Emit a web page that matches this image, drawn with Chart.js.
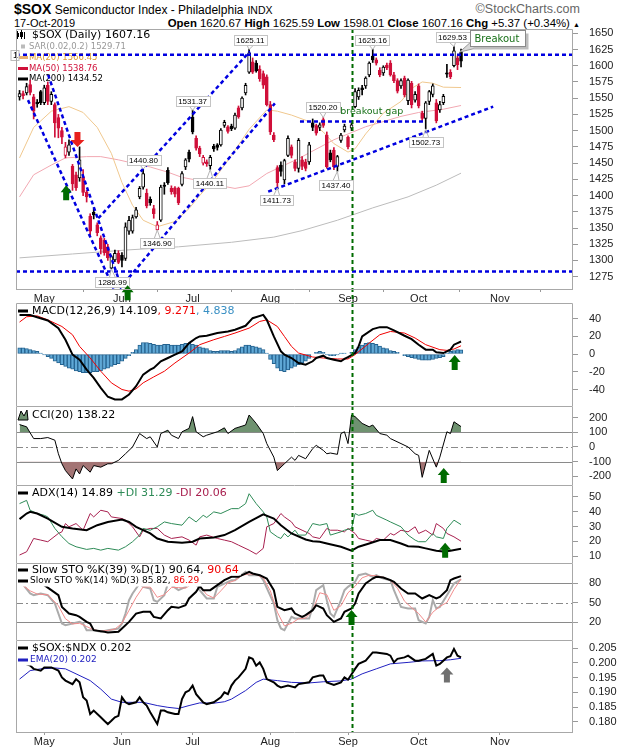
<!DOCTYPE html>
<html>
<head>
<meta charset="utf-8">
<title>$SOX Semiconductor Index</title>
<script src="https://cdn.jsdelivr.net/npm/chart.js@4.4.1/dist/chart.umd.min.js"></script>
<style>
  body { margin: 0; background: #fff; font-family: "Liberation Sans", Arial, sans-serif; }
  #page { position: relative; width: 620px; height: 750px; overflow: hidden; }
  canvas { position: absolute; left: 0; }
  .hd { position: absolute; white-space: nowrap; color: #000; }
</style>
</head>
<body>
<div id="page">
  <div class="hd" style="left:14px;top:1px;font-size:14px;font-weight:bold">$SOX<span style="font-weight:normal;font-size:12px;font-family:'Liberation Sans Narrow','Liberation Sans',sans-serif"> Semiconductor Index - Philadelphia</span> <span style="font-weight:normal;font-size:10.5px">INDX</span></div>
  <div class="hd" style="right:40px;top:2px;font-size:12.5px;color:#666">&copy;StockCharts.com</div>
  <div class="hd" style="left:14px;top:17px;font-size:11px">17-Oct-2019</div>
  <div class="hd" style="right:40px;top:17px;font-size:11.4px"><b>Open</b> 1620.67 <b>High</b> 1625.59 <b>Low</b> 1598.01 <b>Close</b> 1607.16 <b>Chg</b> +5.37 (+0.34%) <span style="font-size:7px">&#9650;</span></div>
  <canvas id="cPrice" width="620" height="281" style="top:22px"></canvas>
  <canvas id="cMacd" width="620" height="103" style="top:303px"></canvas>
  <canvas id="cCci" width="620" height="79" style="top:406px"></canvas>
  <canvas id="cAdx" width="620" height="78" style="top:485px"></canvas>
  <canvas id="cSto" width="620" height="77" style="top:563px"></canvas>
  <canvas id="cRatio" width="620" height="110" style="top:640px"></canvas>
</div>
<script>
// trading days: 0 = 22-Apr-2019 ... 125 = 17-Oct-2019
const monthStarts = [7, 29, 49, 71, 93, 113, 136];
const monthNames = ['May', 'Jun', 'Jul', 'Aug', 'Sep', 'Oct', 'Nov'];

const open = [1552,1557,1558,1571,1552,1544,1560,1543,1570,1545,
  1540,1520,1500,1462,1467,1445,1432,1427,1429,1405,
  1368,1374,1355,1335,1331,1321,1288,1301,1311,1308,
  1303,1345,1345,1367,1398,1413,1404,1394,1380,1347,
  1362,1416,1439,1411,1412,1411,1417,1444,1467,1521,
  1488,1473,1450,1452,1446,1476,1478,1478,1508,1506,
  1507,1504,1535,1535,1558,1590,1606,1604,1595,1588,
  1583,1540,1493,1443,1447,1424,1462,1475,1452,1442,
  1455,1452,1452,1512,1508,1505,1517,1493,1466,1470,
  1445,1485,1501,1490,1504,1537,1552,1566,1569,1586,
  1615,1609,1593,1589,1601,1604,1586,1577,1569,1581,
  1546,1573,1547,1569,1527,1519,1545,1556,1543,1532,
  1543,1589,1590,1600,1612,1620.67];
const high = [1562,1561,1573,1578,1556,1548,1562,1570,1575,1560,
  1543,1525,1505,1482,1486,1448,1436,1475,1440,1408,
  1372,1381,1358,1338,1334,1325,1308,1316,1315,1312,
  1358,1368,1370,1382,1414,1440.8,1410,1398,1385,1360,
  1416,1420,1443,1415,1414,1413,1437,1457,1470,1531.37,
  1492,1476,1462,1455,1462,1479,1480,1503,1516,1508,
  1510,1527,1538,1552,1573,1625.11,1612,1608,1600,1592,
  1586,1545,1497,1446,1452,1456,1492,1478,1455,1488,
  1460,1456,1482,1518,1510,1512,1520.2,1498,1470,1474,
  1462,1496,1510,1492,1512,1565,1566,1570,1583,1606,
  1625.16,1612,1597,1600,1604,1608,1590,1580,1580,1584,
  1580,1576,1560,1572,1530,1545,1562,1572,1548,1545,
  1556,1602,1594,1629.53,1615,1625.59];
const low = [1547,1549,1555,1555,1518,1536,1540,1540,1540,1540,
  1490,1489,1480,1458,1462,1408,1408,1422,1400,1390,
  1338,1364,1338,1310,1308,1300,1286.99,1298,1295,1290,
  1300,1340,1342,1365,1395,1410,1381,1385,1365,1346.9,
  1360,1402,1417,1402,1398,1386,1415,1440,1452,1495,
  1470,1460,1447,1445,1440.11,1468,1470,1476,1505,1496,
  1500,1502,1519,1532,1555,1588,1588,1590,1576,1565,
  1538,1494,1483,1411.73,1430,1418,1460,1458,1438,1436,
  1440,1438,1448,1500,1493,1500,1505,1442,1452,1440,
  1437.4,1482,1498,1472,1500,1535,1548,1555,1565,1583,
  1605,1601,1583,1585,1594,1584,1574,1558,1565,1552,
  1540,1535,1544,1535,1515,1502.73,1540,1552,1512,1528,
  1540,1582,1580,1598,1594,1598.01];
const close = [1557,1554,1568,1559,1530,1541,1543,1566,1545,1556,
  1512,1504,1490,1475,1478,1418,1412,1455,1405,1398,
  1345,1370,1343,1318,1312,1304,1306,1311,1297,1300,
  1352,1362,1366,1378,1411,1434,1384,1389,1372,1355,
  1413,1414,1420,1406,1402,1389,1434,1455,1456,1498,
  1473,1464,1459,1449,1459,1472,1474,1501,1513,1499,
  1503,1524,1521,1550,1570,1620,1590,1592,1580,1570,
  1540,1498,1486,1420,1437,1454,1488,1462,1442,1485,
  1445,1442,1478,1505,1496,1509,1508,1444,1455,1444,
  1460,1493,1507,1475,1509,1560,1562,1563,1581,1604,
  1609,1604,1586,1598,1597,1586,1577,1561,1577,1555,
  1578,1540,1556,1538,1519,1543,1560,1569,1515,1540,
  1553,1587,1583,1623,1601.79,1607.16];

// overlays on price: [day, value]
const ma20 = [[0,1458],[4,1505],[9,1530],[14,1537],[18,1528],[22,1505],[26,1465],[29,1420],[32,1385],[35,1362],
  [39,1352],[44,1360],[48,1380],[51,1400],[55,1424],[60,1462],[65,1502],[70,1532],[73,1530],[77,1524],
  [82,1514],[86,1498],[89,1480],[93,1467],[95,1472],[98,1495],[103,1527],[108,1545],[111,1565],[114,1575],
  [117,1573],[120,1567],[125,1566.45]];
const ma50 = [[0,1398],[4,1432],[9,1447],[13,1458],[19,1460],[23,1460],[28,1455],[32,1450],[37,1444],[42,1436],
  [46,1428],[51,1423],[56,1416],[61,1411],[65,1415],[70,1434],[79,1457],[89,1486],[98,1506],[108,1522],
  [113,1528],[120,1533],[125,1538.76]];
const ma200 = [[0,1304],[15,1310],[30,1316],[45,1321],[60,1328],[72,1336],[80,1346],[90,1362],[100,1381],
  [110,1398],[118,1416],[125,1434.52]];

const macdLine = [[0,44],[3,44],[5,41.5],[8,37.8],[11,29.2],[13,16.1],[15,-0.7],[17,-6.4],[19,-17.6],[21,-26.9],
  [23,-38.1],[25,-48.2],[27,-51.2],[29,-51.2],[31,-45.6],[33,-36.3],[35,-23.2],[37,-17.6],[38,-15.7],[40,-8.2],
  [42,-4.5],[44,-0.7],[46,3],[48,12.3],[50,18],[51,19.8],[53,20.6],[56,23.6],[59,25.4],[61,27.3],
  [64,31.8],[66,40.4],[69,44.1],[70,38.5],[72,19.8],[74,3],[75,-0.7],[77,-4.5],[79,-10.1],[81,-12],
  [83,-8.2],[84,-4.5],[86,-1.9],[87,-4.5],[89,-6.4],[91,-8.2],[92,-5.6],[93,-3.4],[95,1.1],[96,8.6],
  [97,19.8],[100,28.1],[102,30.3],[104,30.3],[106,26.6],[109,20.6],[111,16.8],[113,10.5],[115,4.9],[117,4.9],
  [118,1.9],[120,1.1],[122,4.9],[123,10.5],[124,12.3],[125,14.109]];
const macdSignal = [[0,36],[2,42],[5,43],[8,38.5],[12,31],[15,21.7],[17,8.6],[20,-4.5],[23,-19.4],[26,-32.5],
  [29,-40],[31,-41.9],[33,-39.3],[35,-32.5],[38,-25.8],[41,-19.4],[44,-10.1],[48,1.1],[51,10.5],[55,16.1],
  [58,19.8],[61,23.6],[65,29.2],[68,36.7],[70,38.5],[73,31],[75,19.8],[77,8.6],[79,1.1],[83,-3.4],
  [86,-4.5],[90,-5.6],[93,-5.6],[95,-0.7],[99,12.3],[102,21.7],[105,25.4],[109,23.6],[112,18],[115,10.5],
  [119,4.9],[121,4.1],[123,5.6],[125,9.271]];
const macdHist = [7,7,6,5,4,3,1,-1,-3,-5,
  -8,-10,-12,-14,-16,-17,-19,-20,-21,-21,
  -21,-20,-20,-19,-17,-16,-14,-12,-11,-8,
  -5,-2,2,5,10,13,13,12,11,10,
  10,11,11,10,10,10,11,12,12,11,
  10,8,7,6,4,3,3,4,4,4,
  3,4,6,8,10,10,9,8,7,5,
  1,-6,-11,-16,-19,-20,-18,-16,-14,-12,
  -10,-8,-5,0,2,3,2,-1,-2,-2,
  -1,1,1,0,2,5,8,10,12,13,
  12,11,9,7,6,4,3,2,0,-2,
  -3,-4,-5,-6,-7,-7,-7,-6,-5,-4,
  -3,1,3,4,5,4.838];

const cci = [[0,152],[2,137],[3,96],[4,57],[6,57],[8,64],[10,46],[11,-46],[12,-114],[13,-160],
  [15,-217],[16,-149],[17,-183],[18,-126],[20,-171],[21,-126],[23,-137],[25,-114],[26,-114],[28,-91],
  [30,-46],[32,0],[34,91],[36,57],[37,69],[39,0],[40,91],[42,114],[43,80],[45,57],
  [46,103],[48,126],[49,206],[50,103],[52,69],[53,80],[56,103],[58,130],[59,91],[61,126],
  [64,149],[65,217],[67,160],[69,91],[70,23],[72,-69],[73,-160],[75,-114],[77,-69],[78,-91],
  [79,-57],[81,-80],[83,-11],[84,11],[86,-23],[87,-46],[88,-41],[90,-50],[91,91],[92,103],
  [93,23],[94,217],[95,206],[97,160],[99,137],[100,149],[102,91],[104,80],[105,57],[108,23],
  [110,0],[112,-46],[113,-57],[114,-206],[116,-23],[118,-137],[119,-69],[121,103],[122,91],[123,171],
  [125,138.22]];

const adx = [[0,35],[2,38.8],[3,39.9],[5,38.8],[8,35.4],[12,29.8],[15,28.7],[19,27.5],[22,30.9],[25,33.1],
  [29,34.7],[31,33.1],[33,29.8],[37,25.3],[39,21.9],[42,19.7],[46,19],[49,19.7],[51,21.9],[55,22.6],
  [58,24.2],[61,27.5],[65,33.1],[69,38.3],[72,35.4],[74,30.9],[77,25.3],[81,21.2],[83,20.1],[85,19.7],
  [87,18.5],[91,16.3],[94,13.6],[96,16.3],[99,18.5],[102,20.8],[105,20.8],[108,18.5],[110,16.7],[113,16.3],
  [115,15.2],[118,13.6],[120,13.1],[122,13.6],[125,14.89]];
const plusDI = [[0,45.5],[2,47.7],[3,41],[5,38.8],[7,37.6],[8,36.5],[10,28.7],[12,23.1],[14,18.5],[16,16.3],
  [19,14.5],[21,15.2],[23,14],[25,15.2],[28,14],[30,16.3],[32,19.7],[34,24.2],[35,28.7],[37,27.5],
  [39,29.8],[41,33.1],[43,32],[46,30.9],[48,36.5],[50,33.1],[52,37.6],[53,36.1],[55,39.9],[57,38.8],
  [59,41],[60,42.1],[62,42.1],[64,45.5],[65,52.2],[67,45.5],[69,39.9],[70,36.5],[71,26.4],[73,23],
  [74,21.9],[75,25.3],[76,23],[78,27.5],[79,24.2],[81,24.2],[83,32],[85,30.9],[87,32],[88,24.2],
  [91,26.4],[92,27.5],[94,28.7],[95,38.8],[96,37.6],[98,38.8],[100,41],[101,37.6],[104,34.3],[105,33.1],
  [108,29.8],[110,24.2],[112,20.8],[113,19.7],[115,19.7],[117,25.3],[118,23],[120,21.9],[121,28.7],[123,34.3],
  [125,31.29]];
const minusDI = [[0,10.7],[2,12.9],[4,21.9],[6,20.8],[8,19.7],[11,25.3],[12,26.4],[13,32],[14,29.8],[16,32],
  [18,27.5],[20,38.8],[21,36.5],[23,41],[25,39.9],[26,36.5],[29,35.4],[30,34.3],[32,29.8],[34,23],
  [35,27.5],[37,28.7],[39,28.7],[41,24.2],[43,21.9],[46,23],[48,20.8],[50,17.4],[51,23],[53,24.2],
  [56,21.9],[58,20.8],[60,19.7],[62,17.4],[65,14],[67,11.3],[69,15.2],[70,29.8],[72,32],[74,38.8],
  [75,36.5],[77,33.1],[78,29.8],[80,27.5],[82,25.3],[83,23],[85,21.9],[87,28.7],[88,27.5],[90,27.5],
  [92,26.4],[93,28.7],[95,25.3],[96,21.9],[98,20.8],[100,19.7],[101,21.9],[103,20.8],[105,25.3],[106,24.2],
  [108,27.5],[110,26.4],[112,29.8],[113,25.3],[115,27.5],[117,24.2],[118,32],[120,28.7],[121,25.3],[123,23],
  [125,20.06]];

const stoK39 = [[0,89],[5,84.4],[9,69],[11,61.3],[12,43.3],[14,33],[16,30.5],[17,27.9],[19,20.2],[20,17.7],
  [21,7.4],[24,4.9],[25,3.8],[28,4.9],[29,10],[31,20.2],[33,33],[35,35.6],[37,35.6],[38,27.9],
  [40,25.4],[42,38.2],[43,43.3],[45,41.8],[47,45.9],[48,56.2],[50,66.4],[51,75.1],[52,69],[54,69],
  [56,76.7],[58,84.4],[60,89.5],[62,89.5],[65,97.2],[66,94.6],[68,92.1],[70,86.9],[72,69],[73,43.3],
  [75,38.2],[77,40.8],[78,33],[80,27.9],[81,30.5],[83,38.2],[84,45.9],[86,40.8],[87,30.5],[89,20.2],
  [91,25.4],[92,35.6],[94,40.8],[95,48.5],[96,63.9],[98,79.2],[100,86.9],[101,89.5],[103,88.5],[105,84.4],
  [106,81.8],[108,71.5],[110,63.9],[112,63.9],[114,56.2],[116,61.3],[118,56.2],[119,58.7],[121,69],[122,84.4],
  [123,86.9],[125,90.64]];
const stoK14 = [[0,84.4],[3,63.9],[4,61.3],[6,63.9],[8,61.3],[10,48.5],[12,17.7],[13,15.1],[15,17.7],[17,20.2],
  [18,17.7],[19,7.4],[21,7.4],[23,4.9],[25,7.4],[28,10],[29,17.7],[30,33],[31,53.6],[32,63.9],
  [34,79.2],[35,74.1],[37,71.5],[38,53.6],[39,51],[41,61.3],[42,79.2],[43,76.7],[45,69],[47,74.1],
  [48,81.8],[50,79.2],[51,69],[53,56.2],[55,56.2],[56,74.1],[58,79.2],[60,84.4],[61,84.4],[64,97.2],
  [65,92.1],[68,92.1],[69,84.4],[72,48.5],[73,22.8],[74,10],[75,7.4],[77,27.9],[78,25.4],[80,25.4],
  [82,25.4],[83,43.3],[84,69],[86,76.7],[87,53.6],[88,33],[89,27.9],[91,53.6],[92,69],[93,74.1],
  [95,81.8],[96,92.1],[98,94.6],[100,89.5],[101,92.1],[103,86.9],[105,84.4],[106,69],[108,43.3],[110,40.8],
  [112,40.8],[113,22.8],[115,17.7],[116,27.9],[117,53.6],[118,40.8],[119,43.3],[121,61.3],[123,79.2],[125,85.82]];
const stoD3 = [[0,80],[3,68],[5,63],[8,62],[11,45],[13,25],[15,17],[17,18],[19,13],[21,8],
  [23,6],[25,7],[27,9],[29,18],[31,38],[33,58],[35,74],[37,74],[39,58],[41,62],
  [43,73],[45,73],[47,72],[49,79],[51,76],[53,62],[55,57],[57,68],[59,80],[61,84],
  [63,92],[65,94],[67,93],[69,88],[71,68],[73,35],[75,14],[77,18],[79,25],[81,26],
  [83,38],[85,65],[87,62],[89,38],[91,45],[93,65],[95,75],[97,88],[99,92],[101,91],
  [103,89],[105,84],[107,72],[109,52],[111,42],[113,33],[115,20],[117,35],[119,44],[121,50],
  [123,70],[125,86.29]];

const ratio = [[0,0.2005],[3,0.1991],[4,0.1980],[6,0.1974],[7,0.1985],[9,0.1985],[11,0.1974],[12,0.1951],[13,0.1940],[15,0.1928],
  [16,0.1945],[17,0.1934],[18,0.1883],[19,0.1872],[20,0.1826],[21,0.1838],[23,0.1815],[24,0.1803],[25,0.1792],[26,0.1803],
  [27,0.1815],[28,0.1820],[29,0.1883],[30,0.1866],[31,0.1860],[33,0.1866],[34,0.1883],[35,0.1866],[36,0.1855],[37,0.1832],
  [39,0.1792],[40,0.1838],[41,0.1838],[42,0.1832],[44,0.1826],[45,0.1826],[46,0.1877],[47,0.1900],[48,0.1906],[49,0.1923],
  [50,0.1894],[52,0.1866],[53,0.1860],[55,0.1866],[57,0.1883],[58,0.1900],[59,0.1894],[60,0.1923],[61,0.1940],[62,0.1951],
  [64,0.1980],[65,0.2019],[66,0.2014],[67,0.1991],[68,0.2002],[69,0.1980],[70,0.1945],[72,0.1934],[73,0.1923],[74,0.1917],
  [76,0.1923],[78,0.1917],[79,0.1928],[82,0.1934],[83,0.1951],[85,0.1957],[86,0.1957],[87,0.1934],[89,0.1925],[91,0.1934],
  [92,0.1951],[93,0.1943],[95,0.1980],[96,0.1997],[98,0.2008],[100,0.2036],[101,0.2036],[104,0.2031],[105,0.2025],[106,0.2002],
  [107,0.2014],[109,0.2019],[110,0.2025],[112,0.2008],[113,0.2008],[115,0.2014],[117,0.2031],[118,0.1991],[119,0.1997],[121,0.2019],
  [122,0.2023],[123,0.2048],[124,0.2025],[125,0.2019]];
const ratioEma = [[0,0.1945],[3,0.1974],[6,0.1980],[10,0.1983],[13,0.1980],[16,0.1963],[20,0.1940],[23,0.1911],[26,0.1877],[29,0.1866],
  [32,0.1866],[35,0.1866],[39,0.1855],[42,0.1849],[45,0.1845],[48,0.1855],[51,0.1864],[55,0.1863],[58,0.1868],[60,0.1877],
  [64,0.1906],[67,0.1934],[69,0.1945],[73,0.1940],[77,0.1934],[82,0.1932],[86,0.1936],[91,0.1939],[94,0.1945],[97,0.1963],
  [101,0.1980],[105,0.1997],[110,0.2002],[114,0.2007],[119,0.2008],[122,0.2011],[125,0.2016]];

const priceTicks = [1275,1300,1325,1350,1375,1400,1425,1450,1475,1500,1525,1550,1575,1600,1625,1650];
const macdTicks = [-40, -20, 0, 20, 40];
const cciTicks = [-200, -100, 0, 100, 200];
const adxTicks = [10, 20, 30, 40, 50];
const stoTicks = [20, 50, 80];
const ratioTicks = [0.180, 0.185, 0.190, 0.195, 0.200, 0.205];

// chart annotations (day, price)
const trendLines = [
  [[-1, 1617], [156.7, 1617]],
  [[-1, 1283], [156.7, 1283]],
  [[2.4, 1547], [26.8, 1255]],
  [[8.1, 1586], [28.9, 1258]],
  [[22.3, 1365], [65.2, 1622]],
  [[28.4, 1257], [72.3, 1542]],
  [[70.4, 1406], [134.1, 1537]],
  [[79.4, 1514], [114.3, 1514]]
];
const priceTags = [
  // text, box centre day, box centre price, target day, target price
  ['1625.11', 65.3, 1640, 65, 1625.11],
  ['1531.37', 49, 1546, 49, 1531.37],
  ['1440.80', 35.1, 1455, 35, 1440.8],
  ['1346.90', 39, 1327, 39, 1346.9],
  ['1286.99', 26.3, 1267, 26, 1286.99],
  ['1440.11', 53.9, 1420, 54, 1440.11],
  ['1411.73', 72.8, 1393, 73, 1411.73],
  ['1520.20', 85.9, 1536, 86, 1520.2],
  ['1437.40', 89.6, 1416, 90, 1437.4],
  ['1625.16', 99.9, 1640, 100, 1625.16],
  ['1502.73', 115, 1482, 115, 1502.73],
  ['1629.53', 122.6, 1645, 123, 1629.53]
];

const X_MIN = -1, X_MAX = 156.7, SEP_DAY = 94;
const RED = '#d0103a', GREEN = '#006b00', FRAME = '#a8a8a8';
const LEG = '"DejaVu Sans", Verdana, sans-serif';
const AX = '"Liberation Sans", Arial, sans-serif';

const pts = arr => arr.map(([x, y]) => ({x, y}));
const days = close.map((c, k) => k);
const candleColor = close.map((c, k) => (k === 0 || c >= close[k - 1]) ? '#000' : RED);
const bodyFill = close.map((c, k) => c > open[k] ? '#fff' : candleColor[k]);

function scalesFor(yMin, yMax, yTicks, fmt, xAxisH) {
  return {
    x: {
      type: 'linear', min: X_MIN, max: X_MAX, offset: false, display: xAxisH > 0,
      grid: {drawOnChartArea: false, drawTicks: true, tickLength: 2, color: '#999'},
      border: {display: false},
      afterBuildTicks: s => { s.ticks = monthStarts.map(v => ({value: v})); },
      afterFit: s => { s.height = xAxisH; s.paddingLeft = 0; s.paddingRight = 0; },
      ticks: {autoSkip: false, maxRotation: 0, padding: 0, color: '#222',
        font: {family: AX, size: 11}, callback: (v, k) => monthNames[k]}
    },
    y: {
      position: 'right', min: yMin, max: yMax,
      grid: {drawOnChartArea: false, drawTicks: true, tickLength: 5, color: '#999'},
      border: {display: false},
      afterBuildTicks: s => { s.ticks = yTicks.map(v => ({value: v})); },
      afterFit: s => { s.width = 47; s.paddingTop = 0; s.paddingBottom = 0; },
      ticks: {autoSkip: false, padding: 11, color: '#222', font: {family: AX, size: 11}, callback: fmt}
    }
  };
}

function baseOptions(scales, padTop, plugins) {
  return {
    responsive: false, animation: false, events: [],
    layout: {padding: {left: 16, right: 0, top: padTop, bottom: 0}},
    plugins: Object.assign({legend: {display: false}, tooltip: {enabled: false}}, plugins || {}),
    scales
  };
}

function lineSet(data, color, width, extra) {
  return Object.assign({type: 'line', data: pts(data), borderColor: color, borderWidth: width,
    pointRadius: 0, tension: 0, fill: false}, extra || {});
}

function framePlugin(drawBottom) {
  return {
    id: 'frame',
    afterDraw(chart) {
      const {ctx, chartArea: a} = chart;
      ctx.save();
      ctx.strokeStyle = FRAME; ctx.lineWidth = 1;
      ctx.beginPath();
      ctx.moveTo(a.left + 0.5, a.bottom); ctx.lineTo(a.left + 0.5, a.top + 0.5);
      ctx.lineTo(a.right - 0.5, a.top + 0.5); ctx.lineTo(a.right - 0.5, a.bottom);
      if (drawBottom) { ctx.moveTo(a.left, a.bottom - 0.5); ctx.lineTo(a.right, a.bottom - 0.5); }
      ctx.stroke();
      ctx.restore();
    }
  };
}

function sepLine(chart, toCanvasBottom) {
  const {ctx, chartArea: a} = chart;
  const x = Math.round(chart.scales.x.getPixelForValue(SEP_DAY)) + 0.5;
  ctx.save();
  ctx.strokeStyle = GREEN; ctx.lineWidth = 2; ctx.setLineDash([4, 3]);
  ctx.beginPath(); ctx.moveTo(x, a.top); ctx.lineTo(x, toCanvasBottom ? chart.height : a.bottom); ctx.stroke();
  ctx.restore();
}

function arrow(ctx, x, tipY, dir, color, w) {
  const s = dir === 'up' ? 1 : -1, head = 7, len = 15, sh = 3;
  ctx.save();
  ctx.beginPath();
  ctx.moveTo(x, tipY);
  ctx.lineTo(x + w / 2, tipY + s * head);
  ctx.lineTo(x + sh, tipY + s * head);
  ctx.lineTo(x + sh, tipY + s * len);
  ctx.lineTo(x - sh, tipY + s * len);
  ctx.lineTo(x - sh, tipY + s * head);
  ctx.lineTo(x - w / 2, tipY + s * head);
  ctx.closePath();
  ctx.fillStyle = color; ctx.fill();
  ctx.restore();
}

function arrowAt(chart, day, value, dir, color, w) {
  arrow(chart.ctx, chart.scales.x.getPixelForValue(day), chart.scales.y.getPixelForValue(value), dir, color, w || 12);
}

function refLines(chart, lines) {
  const {ctx, chartArea: a} = chart;
  ctx.save();
  ctx.strokeStyle = '#8a8a8a'; ctx.lineWidth = 1;
  lines.forEach(([v, dashed]) => {
    const y = Math.round(chart.scales.y.getPixelForValue(v)) + 0.5;
    ctx.setLineDash(dashed ? [7, 3, 2, 3] : []);
    ctx.beginPath(); ctx.moveTo(a.left, y); ctx.lineTo(a.right, y); ctx.stroke();
  });
  ctx.restore();
}

// rows: {y, x, font, mark, segs: [[text, color]]}
function legendRows(chart, rows, withBg) {
  const ctx = chart.ctx;
  ctx.save();
  ctx.textBaseline = 'middle';
  rows.forEach(r => {
    ctx.font = r.font;
    let w = 0;
    r.segs.forEach(s => { w += ctx.measureText(s[0]).width; });
    if (withBg) { ctx.fillStyle = '#fff'; ctx.fillRect(17, r.y - 5.5, r.x - 17 + w + 2, 11); }
    if (r.mark) { ctx.fillStyle = r.mark; ctx.fillRect(18, r.y - 1.5, 10, 3); }
    let x = r.x;
    r.segs.forEach(([t, c]) => { ctx.fillStyle = c; ctx.fillText(t, x, r.y); x += ctx.measureText(t).width; });
  });
  ctx.restore();
}

function tagBox(chart, text, cd, cv, td, tv) {
  const ctx = chart.ctx, X = chart.scales.x, Y = chart.scales.y;
  const cx = X.getPixelForValue(cd), cy = Y.getPixelForValue(cv);
  const tx = X.getPixelForValue(td), ty = Y.getPixelForValue(tv);
  ctx.save();
  ctx.font = '8px ' + AX;
  const w = Math.round(ctx.measureText(text).width) + 5, h = 10;
  const x0 = Math.round(cx - w / 2) + 0.5, y0 = Math.round(cy - h / 2) + 0.5;
  const edge = ty < y0 ? y0 : y0 + h;
  ctx.strokeStyle = '#b4b4b4'; ctx.lineWidth = 1;
  ctx.beginPath(); ctx.moveTo(cx - 3, edge); ctx.lineTo(tx, ty); ctx.lineTo(cx + 3, edge); ctx.stroke();
  ctx.fillStyle = '#fff'; ctx.fillRect(x0, y0, w, h);
  ctx.strokeStyle = '#c4c4c4'; ctx.strokeRect(x0, y0, w, h);
  ctx.fillStyle = '#000'; ctx.textBaseline = 'middle'; ctx.textAlign = 'center';
  ctx.fillText(text, cx, y0 + h / 2 + 0.5);
  ctx.restore();
}

// ---------- price panel ----------
const pricePlugin = {
  id: 'priceOverlay',
  beforeDatasetsDraw(chart) {
    const ctx = chart.ctx;
    legendRows(chart, [
      {y: 13, x: 32, font: '11px ' + LEG, segs: [['$SOX (Daily) 1607.16', '#000']]},
      {y: 24.5, x: 29, font: '8.5px ' + LEG, segs: [['SAR(0.02,0.2) 1529.71', '#999']]},
      {y: 35.5, x: 29, font: '8.5px ' + LEG, mark: '#e8b070', segs: [['MA(20) 1566.45', '#dc9a30']]},
      {y: 46.5, x: 29, font: '8.5px ' + LEG, mark: RED, segs: [['MA(50) 1538.76', RED]]},
      {y: 57, x: 29, font: '8.5px ' + LEG, mark: '#000', segs: [['MA(200) 1434.52', '#000']]}
    ], false);
    ctx.save();
    ctx.fillStyle = '#000';
    ctx.fillRect(17, 9, 1, 8); ctx.fillRect(16, 11, 3, 4);
    ctx.fillRect(21, 8, 1, 9); ctx.fillRect(20, 10, 3, 5);
    ctx.fillRect(24, 10, 1, 7);
    ctx.fillStyle = '#bbb'; ctx.fillRect(21, 22.5, 4, 4);
    ctx.restore();
  },
  afterDatasetsDraw(chart) {
    const {ctx, chartArea: a} = chart;
    const X = chart.scales.x, Y = chart.scales.y;
    sepLine(chart, true);
    priceTags.forEach(t => tagBox(chart, ...t));
    arrowAt(chart, 13.2, 1416, 'up', GREEN, 11);
    arrowAt(chart, 16.4, 1475, 'down', '#e8201c', 14);
    arrowAt(chart, 30.6, 1262, 'up', GREEN, 12);
    ctx.save();
    // breakout gap note
    ctx.font = '9.5px ' + LEG; ctx.fillStyle = '#177017'; ctx.textBaseline = 'middle';
    ctx.fillText('breakout gap', X.getPixelForValue(90.8), Y.getPixelForValue(1529));
    // breakout callout
    ctx.font = '10px ' + LEG;
    const bx = Math.round(X.getPixelForValue(127.5)) + 0.5, by = Math.round(Y.getPixelForValue(1655.5)) + 0.5;
    const bw = Math.round(ctx.measureText('Breakout').width) + 10, bh = 16;
    const tx = X.getPixelForValue(124.6), ty = Y.getPixelForValue(1621);
    ctx.fillStyle = '#d8d8d8'; ctx.strokeStyle = '#9a9a9a';
    ctx.beginPath(); ctx.moveTo(bx + 2, by + bh - 6); ctx.lineTo(tx, ty); ctx.lineTo(bx + 12, by + bh); ctx.closePath();
    ctx.fill(); ctx.stroke();
    ctx.fillStyle = '#bdbdbd'; ctx.fillRect(bx + 3, by + 3, bw, bh);
    ctx.fillStyle = '#fff'; ctx.fillRect(bx, by, bw, bh);
    ctx.strokeStyle = '#8a8a8a'; ctx.strokeRect(bx, by, bw, bh);
    ctx.fillStyle = '#177017'; ctx.fillText('Breakout', bx + 4, by + bh / 2 + 0.5);
    // clipped level tag at left of upper line
    const ly = Math.round(Y.getPixelForValue(1617)) + 0.5;
    ctx.fillStyle = '#fff'; ctx.fillRect(a.left - 5, ly - 5, 8, 10);
    ctx.strokeStyle = '#bbb'; ctx.strokeRect(a.left - 5, ly - 5, 8, 10);
    ctx.fillStyle = '#000'; ctx.font = '9px ' + AX; ctx.fillText('1', a.left - 3, ly);
    ctx.restore();
  }
};

new Chart(document.getElementById('cPrice'), {
  type: 'bar',
  data: {
    datasets: [
      lineSet(ma200, '#bcbcbc', 1, {order: 7}),
      lineSet(ma50, '#f2a8b2', 1, {order: 6}),
      lineSet(ma20, '#f0c88e', 1, {order: 5}),
      {type: 'bar', data: days.map(k => ({x: k, y: [low[k], high[k]]})), backgroundColor: candleColor,
        barThickness: 1, grouped: false, order: 4},
      {type: 'bar', data: days.map(k => ({x: k, y: [open[k], close[k]]})), backgroundColor: bodyFill,
        borderColor: candleColor, borderWidth: 1, borderSkipped: false, barThickness: 3, minBarLength: 1,
        grouped: false, order: 3},
      ...trendLines.map(t => lineSet(t, '#0000e0', 2.5, {borderDash: [4, 3], order: 1}))
    ]
  },
  options: baseOptions(scalesFor(1254.5, 1656.6, priceTicks, v => v, 13), 7),
  plugins: [pricePlugin, framePlugin(true)]
});

// ---------- MACD ----------
new Chart(document.getElementById('cMacd'), {
  type: 'bar',
  data: {
    datasets: [
      {type: 'bar', data: days.map(k => ({x: k, y: macdHist[k]})), backgroundColor: '#5fa8d6',
        borderColor: '#24628f', borderWidth: 1, borderSkipped: false, barPercentage: 1, categoryPercentage: 1, order: 3},
      lineSet(macdSignal, '#f00000', 1, {order: 2}),
      lineSet(macdLine, '#000', 2, {order: 1})
    ]
  },
  options: baseOptions(scalesFor(-58.6, 57.5, macdTicks, v => v, 0), 0),
  plugins: [{
    id: 'macdOverlay',
    afterDatasetsDraw(chart) {
      sepLine(chart, false);
      arrowAt(chart, 123.2, -1, 'up', GREEN, 12);
      legendRows(chart, [{y: 8, x: 32, font: '11px ' + LEG, mark: '#000',
        segs: [['MACD(12,26,9) 14.109', '#000'], [', 9.271', '#f00000'], [', 4.838', '#3a90c4']]}], false);
    }
  }, framePlugin(false)]
});

// ---------- CCI ----------
new Chart(document.getElementById('cCci'), {
  type: 'line',
  data: {
    datasets: [
      lineSet(cci, '#000', 1, {fill: {target: {value: 100}, above: '#6f9270', below: 'rgba(0,0,0,0)'}, order: 1}),
      lineSet(cci, 'rgba(0,0,0,0)', 0, {fill: {target: {value: -100}, above: 'rgba(0,0,0,0)', below: '#a37474'}, order: 2})
    ]
  },
  options: baseOptions(scalesFor(-258, 278, cciTicks, v => v, 0), 0),
  plugins: [{
    id: 'cciOverlay',
    beforeDatasetsDraw(chart) { refLines(chart, [[100, false], [-100, false], [0, true]]); },
    afterDatasetsDraw(chart) {
      const ctx = chart.ctx;
      sepLine(chart, false);
      arrowAt(chart, 120.1, -142, 'up', GREEN, 12);
      ctx.save();
      ctx.beginPath(); ctx.moveTo(18, 14); ctx.lineTo(21, 5); ctx.lineTo(24, 10); ctx.lineTo(27, 4); ctx.lineTo(28, 14); ctx.closePath();
      ctx.fillStyle = '#6f9270'; ctx.fill(); ctx.strokeStyle = '#000'; ctx.lineWidth = 1; ctx.stroke();
      ctx.restore();
      legendRows(chart, [{y: 9, x: 32, font: '11px ' + LEG, segs: [['CCI(20) 138.22', '#000']]}], false);
    }
  }, framePlugin(false)]
});

// ---------- ADX ----------
new Chart(document.getElementById('cAdx'), {
  type: 'line',
  data: {
    datasets: [
      lineSet(minusDI, '#a8204f', 1, {order: 3}),
      lineSet(plusDI, '#2e8b57', 1, {order: 2}),
      lineSet(adx, '#000', 2, {order: 1})
    ]
  },
  options: baseOptions(scalesFor(5.3, 58.1, adxTicks, v => v, 0), 0),
  plugins: [{
    id: 'adxOverlay',
    afterDatasetsDraw(chart) {
      sepLine(chart, false);
      arrowAt(chart, 120.5, 19, 'up', GREEN, 12);
      legendRows(chart, [{y: 8, x: 32, font: '11px ' + LEG, mark: '#000',
        segs: [['ADX(14) 14.89 ', '#000'], ['+DI 31.29 ', '#2e8b57'], ['-DI 20.06', '#a8204f']]}], false);
    }
  }, framePlugin(false)]
});

// ---------- Slow stochastics ----------
new Chart(document.getElementById('cSto'), {
  type: 'line',
  data: {
    datasets: [
      lineSet(stoK14, '#ababab', 2, {order: 3}),
      lineSet(stoD3, '#f28c8c', 1, {order: 2}),
      lineSet(stoK39, '#000', 2, {order: 1})
    ]
  },
  options: baseOptions(scalesFor(-7.7, 110.8, stoTicks, v => v, 0), 0),
  plugins: [{
    id: 'stoOverlay',
    beforeDatasetsDraw(chart) { refLines(chart, [[80, false], [20, false], [50, true]]); },
    afterDatasetsDraw(chart) {
      sepLine(chart, false);
      arrowAt(chart, 94, 38.5, 'up', GREEN, 12);
      legendRows(chart, [
        {y: 7, x: 32, font: '11px ' + LEG, mark: '#000', segs: [['Slow STO %K(39) %D(1) 90.64, ', '#000'], ['90.64', '#f00000']]},
        {y: 18, x: 30, font: '9px ' + LEG, mark: '#000', segs: [['Slow STO %K(14) %D(3) 85.82, ', '#000'], ['86.29', '#f00000']]}
      ], true);
    }
  }, framePlugin(false)]
});

// ---------- $SOX:$NDX ----------
new Chart(document.getElementById('cRatio'), {
  type: 'line',
  data: {
    datasets: [
      lineSet(ratioEma, '#2020c0', 1, {order: 2}),
      lineSet(ratio, '#000', 2, {order: 1})
    ]
  },
  options: baseOptions(scalesFor(0.17615, 0.20783, ratioTicks, v => v.toFixed(3), 17), 0),
  plugins: [{
    id: 'ratioOverlay',
    afterDatasetsDraw(chart) {
      sepLine(chart, false);
      arrowAt(chart, 121, 0.1985, 'up', '#707070', 13);
      legendRows(chart, [
        {y: 8, x: 32, font: '11px ' + LEG, mark: '#000', segs: [['$SOX:$NDX 0.202', '#000']]},
        {y: 20, x: 30, font: '9px ' + LEG, mark: '#2020c0', segs: [['EMA(20) 0.202', '#2020c0']]}
      ], true);
    }
  }, framePlugin(true)]
});
</script>
</body>
</html>
